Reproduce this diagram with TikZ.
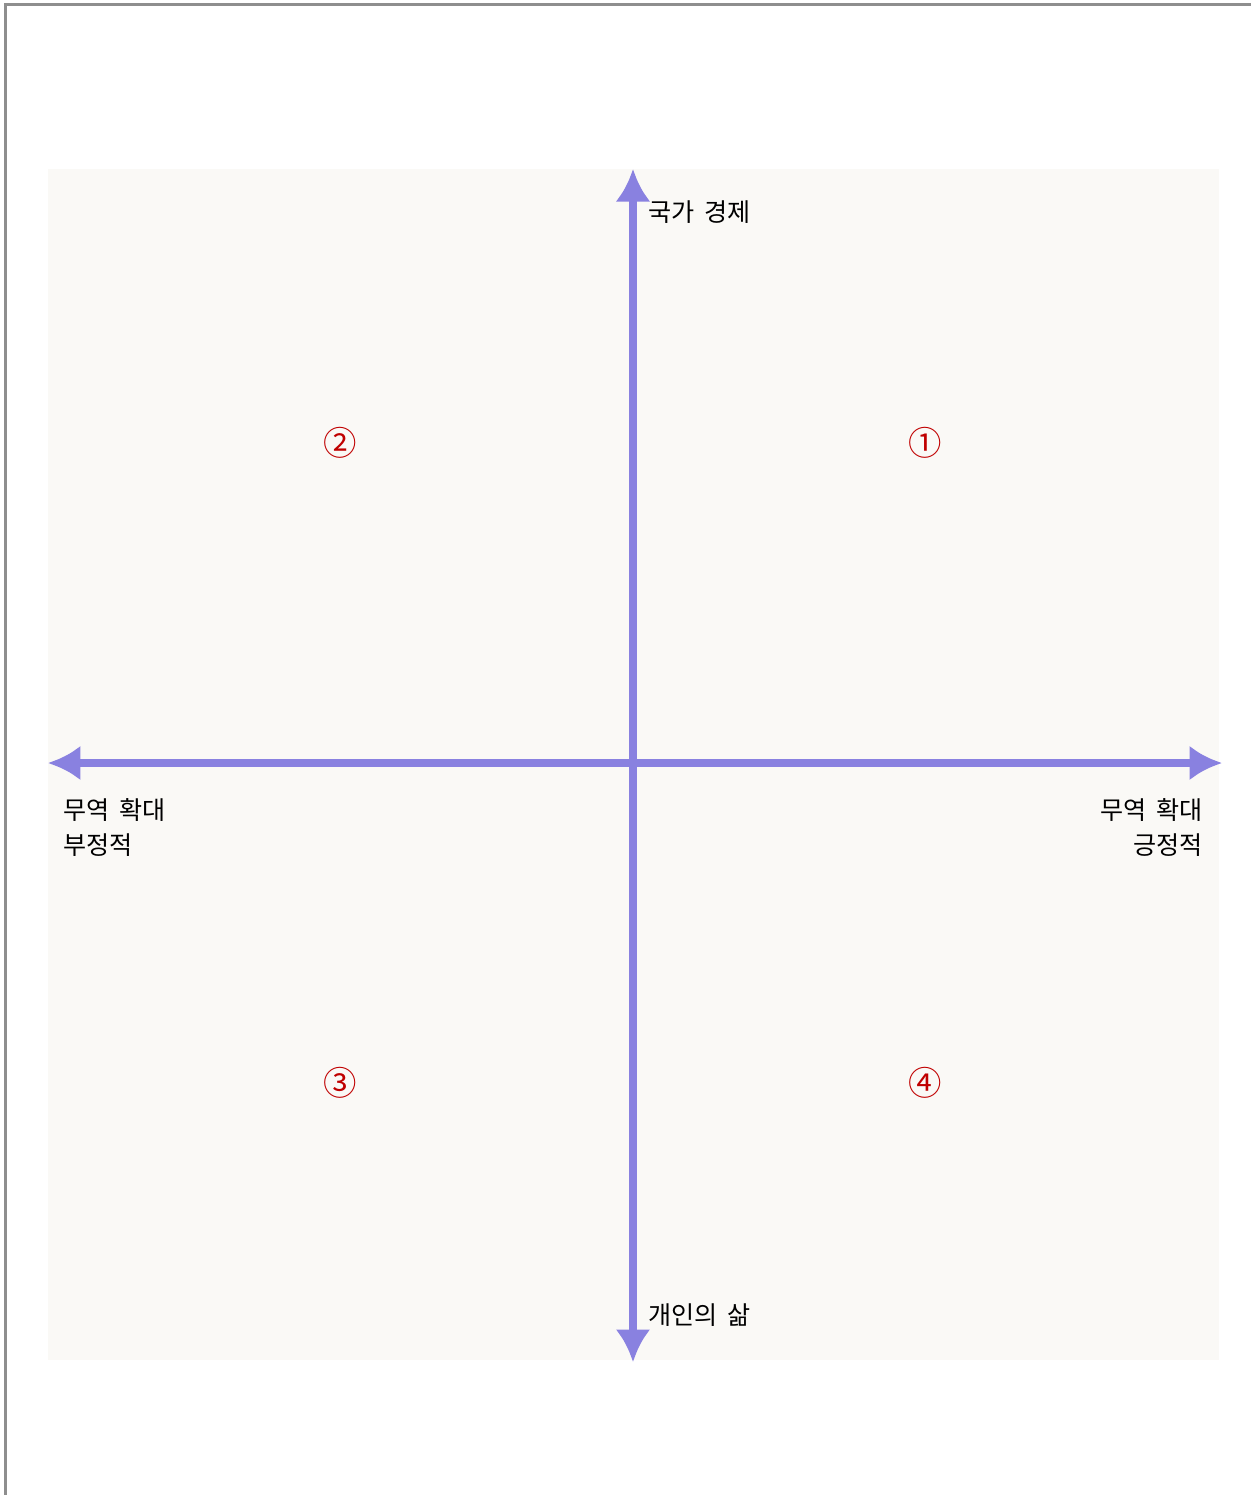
\documentclass[tikz,border=0pt]{standalone}
\usepackage{fontspec}
\setmainfont[WordSpace=1.8]{Noto Sans CJK KR}
\usetikzlibrary{arrows.meta, positioning}

\definecolor{axisblue}{HTML}{8981E0}
\definecolor{paper}{HTML}{FAF9F6}
\definecolor{numred}{HTML}{C00000}
\definecolor{framegray}{HTML}{8E8E8E}

\begin{document}
\begin{tikzpicture}[
                x=0.02cm, y=-0.02cm,
                axis/.style={draw=axisblue, line width=4pt, {Latex[length=6.5mm, width=7mm]}-{Latex[length=6.5mm, width=7mm]}},
                lbl/.style={font=\fontsize{14.3pt}{19.8pt}\selectfont, inner sep=0pt},
                num/.style={font=\fontsize{19pt}{19pt}\selectfont, text=numred, inner sep=0pt}
            ]
                \useasboundingbox (0,0) rectangle (1251,1495);
                % frame and background
                \draw [framegray, line width=1.7pt] (5.5,1495) -- (5.5,4.5) -- (1251,4.5);
                \fill [paper] (48,169) rectangle (1219,1360);

                % axis ends
                \coordinate (A_top) at (633,169);
                \coordinate (A_bottom) at (633,1362);
                \coordinate (A_left) at (48,763);
                \coordinate (A_right) at (1222,763);

                % Draw axes
                \path [axis] (A_left) -- (A_right);
                \path [axis] (A_bottom) -- (A_top);

                % axis labels
                \node [lbl, anchor=west] (L_nation) at (648,212) {국가 경제};
                \node [lbl, anchor=west] (L_life) at (648,1315) {개인의 삶};
                \node [lbl, anchor=north west, align=left] (L_neg) at (63,798) {무역 확대\\부정적};
                \node [lbl, anchor=north east, align=right] (L_pos) at (1203,798) {무역 확대\\긍정적};

                % quadrants
                \node [num] (Q_one) at (925,443) {①};
                \node [num] (Q_two) at (340,443) {②};
                \node [num] (Q_three) at (340,1083) {③};
                \node [num] (Q_four) at (925,1083) {④};
            \end{tikzpicture}
\end{document}
